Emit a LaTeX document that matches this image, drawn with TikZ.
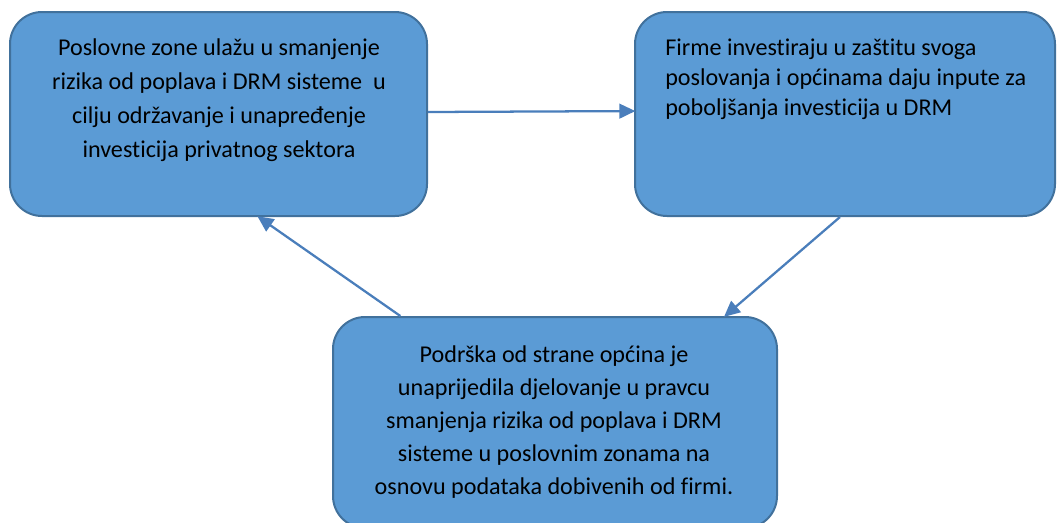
\documentclass[tikz,border=0pt]{standalone}
\usepackage{fontspec}
\setmainfont{Carlito}[Ligatures=NoCommon]
\usetikzlibrary{arrows.meta}
\definecolor{boxfill}{HTML}{5B9BD5}
\definecolor{boxline}{HTML}{41719C}
\definecolor{arrcol}{HTML}{4A7EBB}
\tikzset{
  box/.style={draw=boxline, fill=boxfill, line width=1.5pt, rounded corners=24pt, inner sep=0pt},
  txt/.style={font=\fontsize{18.1pt}{25.5pt}\selectfont, text=black, inner sep=0pt},
  arr/.style={draw=arrcol, line width=1.7pt, -{Triangle[length=12pt,width=11pt]}, shorten >=-1pt}
}
\begin{document}
\begin{tikzpicture}[x=0.75pt,y=-0.75pt]
\useasboundingbox (0,0) rectangle (1057,522);
\node[box, minimum width=312.75pt, minimum height=153pt] (A) at (218.5,114) {};
\node[box, minimum width=315pt, minimum height=153pt] (B) at (845,114) {};
\node[box, minimum width=333pt, minimum height=158.25pt] (C) at (555,422.5) {};
\node[txt, align=center] (tA) at (219,100) {Poslovne zone ulažu u smanjenje\\rizika od poplava i DRM sisteme\ \ u\\cilju održavanje i unapređenje\\investicija privatnog sektora};
\node[txt, align=left, anchor=west, font=\fontsize{18.1pt}{22.5pt}\selectfont] (tB) at (665,79) {Firme investiraju u zaštitu svoga\\poslovanja i općinama daju inpute za\\poboljšanja investicija u DRM};
\node[txt, align=center, font=\fontsize{18.1pt}{24.8pt}\selectfont] (tC) at (554,422) {Podrška od strane općina je\\unaprijedila djelovanje u pravcu\\smanjenja rizika od poplava i DRM\\sisteme u poslovnim zonama na\\osnovu podataka dobivenih od firmi.};
\draw[arr] ([yshift=1.5pt]A.east) -- ([yshift=2.2pt]B.west);
\draw[arr] ([xshift=-3.75pt]B.south) -- ([xshift=127.5pt]C.north);
\draw[arr] ([xshift=-116pt]C.north) -- ([xshift=30pt]A.south);
\end{tikzpicture}
\end{document}
